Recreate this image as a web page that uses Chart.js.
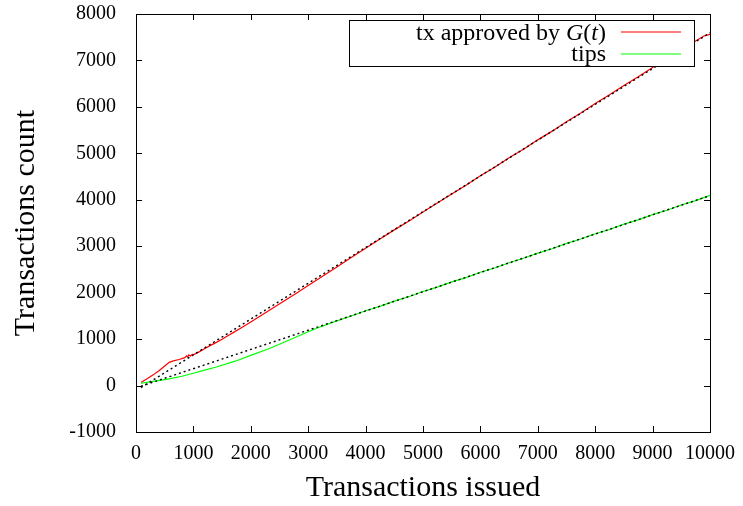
<!DOCTYPE html>
<html>
<head>
<meta charset="utf-8">
<script src="https://cdn.jsdelivr.net/npm/chart.js@4/dist/chart.umd.min.js"></script>
<style>
html,body{margin:0;padding:0;background:#fff;}
#wrap{width:743px;height:506px;position:relative;}
</style>
</head>
<body>
<div id="wrap"><canvas id="c" width="743" height="506"></canvas></div>
<script>
// ---- data ----
const approvedX = [87,200,300,400,500,580,650,750,850,880,900,920,950,980,1000,1100,1200,1300,1400,1500,1600,1700,1800,1900,2000,2200,2400,2600,2800,3000,3250,3500,3750,4000,4250,4500,4750,5000,5250,5500,5750,6000,6250,6500,6750,7000,7250,7500,7750,8000,8250,8500,8750,9000,9250,9500,9750,9900,10000];
const approvedY = [65,150,230,320,420,500,530,560,600,640,615,660,635,675,660,725,800,865,930,995,1070,1145,1220,1295,1370,1525,1680,1838,1995,2155,2355,2555,2755,2955,3155,3352,3540,3735,3930,4125,4315,4518,4700,4905,5088,5290,5478,5682,5870,6075,6262,6462,6648,6850,7035,7230,7420,7530,7560];

const tipsX = [87,300,580,800,1000,1162,1400,1742,2000,2323,2600,2900,3136,3500,3750,4000,4250,4500,4750,5000,5250,5500,5750,6000,6250,6500,6750,7000,7250,7500,7750,8000,8250,8500,8750,9000,9250,9500,9750,10000];
const tipsY = [50,90,142,200,265,321,400,530,650,797,942,1106,1229,1392,1497,1610,1705,1818,1912,2025,2118,2232,2325,2440,2532,2645,2740,2852,2945,3060,3155,3268,3360,3475,3568,3680,3775,3888,3982,4095];

// linear fits (dotted)
const fitApprovedX = [87,10000];
const fitApprovedY = [-43,7596];
const fitTipsX = [87,10000];
const fitTipsY = [-14,4090];

const xTicks = [0,1000,2000,3000,4000,5000,6000,7000,8000,9000,10000];
const yTicks = [-1000,0,1000,2000,3000,4000,5000,6000,7000,8000];

const seriesNames = ['tx approved by ', 'tips'];

const pts = (xs, ys) => xs.map((x, i) => ({x, y: ys[i]}));
const FONT = "'Liberation Serif', 'Times New Roman', serif";

const framePlugin = {
  id: 'frame',
  afterDatasetsDraw(chart) {
    const ctx = chart.ctx;
    const a = chart.chartArea;
    const xs = chart.scales.x, ys = chart.scales.y;
    ctx.save();
    // legend box (opaque)
    const lx = 349, ly = 20, lw = 345, lh = 46;
    ctx.fillStyle = '#fff';
    ctx.fillRect(lx, ly, lw, lh);
    ctx.strokeStyle = '#000';
    ctx.lineWidth = 1;
    ctx.strokeRect(lx + 0.5, ly + 0.5, lw, lh);
    ctx.fillStyle = '#000';
    ctx.textBaseline = 'alphabetic';
    const LF = '24px ' + FONT, LI = 'italic 24px ' + FONT;
    const rightX = 606;
    const parts = [
      {t: seriesNames[0], f: LF},
      {t: 'G', f: LI},
      {t: '(', f: LF},
      {t: 't', f: LI},
      {t: ')', f: LF}
    ];
    let total = 0;
    parts.forEach(p => { ctx.font = p.f; p.w = ctx.measureText(p.t).width; total += p.w; });
    let cx = rightX - total;
    parts.forEach(p => { ctx.font = p.f; ctx.textAlign = 'left'; ctx.fillText(p.t, cx, 40); cx += p.w; });
    ctx.font = LF;
    ctx.textAlign = 'right';
    ctx.fillText(seriesNames[1], rightX, 61);
    ctx.lineWidth = 1.2;
    ctx.strokeStyle = '#ff0000';
    ctx.beginPath(); ctx.moveTo(621, 32); ctx.lineTo(681, 32); ctx.stroke();
    ctx.strokeStyle = '#00ff00';
    ctx.beginPath(); ctx.moveTo(621, 54); ctx.lineTo(681, 54); ctx.stroke();

    // frame
    ctx.strokeStyle = '#000';
    ctx.lineWidth = 1;
    ctx.strokeRect(Math.round(a.left) + 0.5, Math.round(a.top) + 0.5, Math.round(a.right - a.left), Math.round(a.bottom - a.top));
    // inward tick marks on all four sides
    const tl = 6;
    ctx.beginPath();
    xTicks.forEach(v => {
      const px = Math.round(xs.getPixelForValue(v)) + 0.5;
      ctx.moveTo(px, a.bottom); ctx.lineTo(px, a.bottom - tl);
      ctx.moveTo(px, a.top); ctx.lineTo(px, a.top + tl);
    });
    yTicks.forEach(v => {
      const py = Math.round(ys.getPixelForValue(v)) + 0.5;
      ctx.moveTo(a.left, py); ctx.lineTo(a.left + tl, py);
      ctx.moveTo(a.right, py); ctx.lineTo(a.right - tl, py);
    });
    ctx.stroke();
    ctx.restore();
  }
};

new Chart(document.getElementById('c'), {
  type: 'scatter',
  data: {
    datasets: [
      {label: 'tx approved by G(t)', data: pts(approvedX, approvedY), showLine: true, borderColor: '#ff0000', borderWidth: 1.2, pointRadius: 0, tension: 0, order: 4},
      {label: 'tips', data: pts(tipsX, tipsY), showLine: true, borderColor: '#00ff00', borderWidth: 1.2, pointRadius: 0, tension: 0, order: 3},
      {label: 'fit approved', data: pts(fitApprovedX, fitApprovedY), showLine: true, borderColor: '#000', borderWidth: 1.4, borderDash: [2, 3], pointRadius: 0, order: 2},
      {label: 'fit tips', data: pts(fitTipsX, fitTipsY), showLine: true, borderColor: '#000', borderWidth: 1.4, borderDash: [2, 3], pointRadius: 0, order: 1}
    ]
  },
  options: {
    responsive: false,
    animation: false,
    devicePixelRatio: 1,
    layout: {padding: {left: 0, top: 14, right: 33, bottom: 0}},
    plugins: {legend: {display: false}, tooltip: {enabled: false}},
    scales: {
      x: {
        type: 'linear', min: 0, max: 10000,
        afterBuildTicks: s => { s.ticks = xTicks.map(v => ({value: v})); },
        afterFit: s => { s.height = 506 - 432; s.paddingLeft = 0; s.paddingRight = 0; },
        ticks: {color: '#000', font: {family: FONT, size: 20}, padding: 10, maxRotation: 0, callback: v => String(v)},
        grid: {display: false, drawTicks: false},
        border: {display: false},
        title: {display: true, text: 'Transactions issued', color: '#000', font: {family: FONT, size: 30}, padding: {top: 0, bottom: 0}}
      },
      y: {
        type: 'linear', min: -1000, max: 8000,
        afterBuildTicks: s => { s.ticks = yTicks.map(v => ({value: v})); },
        afterFit: s => { s.width = 136; s.paddingTop = 0; s.paddingBottom = 0; },
        ticks: {color: '#000', font: {family: FONT, size: 20}, padding: 20, callback: v => String(v)},
        grid: {display: false, drawTicks: false},
        border: {display: false},
        title: {display: true, text: 'Transactions count', color: '#000', font: {family: FONT, size: 30}, padding: {top: 8, bottom: 0}}
      }
    }
  },
  plugins: [framePlugin]
});
</script>
</body>
</html>
